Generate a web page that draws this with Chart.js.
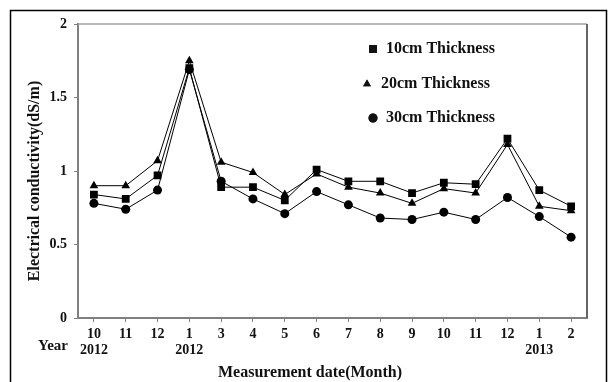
<!DOCTYPE html>
<html>
<head>
<meta charset="utf-8">
<script src="https://cdn.jsdelivr.net/npm/chart.js@4/dist/chart.umd.min.js"></script>
<style>
  html, body { margin: 0; padding: 0; background: #fff; }
  #wrap { width: 609px; height: 382px; }
</style>
</head>
<body>
<div id="wrap"><canvas id="c" width="609" height="382"></canvas></div>
<script>
// Measurement months (Oct 2012 – Feb 2013) and the year shown under some of them
const months = ['10', '11', '12', '1', '3', '4', '5', '6', '7', '8', '9', '10', '11', '12', '1', '2'];
const years  = ['2012', '', '', '2012', '', '', '', '', '', '', '', '', '', '', '2013', ''];

// Electrical conductivity (dS/m) per layer thickness
const thick10 = [0.84, 0.81, 0.97, 1.70, 0.89, 0.89, 0.80, 1.01, 0.93, 0.93, 0.85, 0.92, 0.91, 1.22, 0.87, 0.76];
const thick20 = [0.90, 0.90, 1.07, 1.75, 1.06, 0.99, 0.84, 0.98, 0.89, 0.85, 0.78, 0.88, 0.85, 1.18, 0.76, 0.73];
const thick30 = [0.78, 0.74, 0.87, 1.69, 0.93, 0.81, 0.71, 0.86, 0.77, 0.68, 0.67, 0.72, 0.67, 0.82, 0.69, 0.55];

const seriesNames = ['10cm Thickness', '20cm Thickness', '30cm Thickness'];
const yTicks = [0, 0.5, 1, 1.5, 2];

const FONT = 'Liberation Serif, Times New Roman, serif';
const labels = months.map((m, i) => [m, years[i]]);

function series(label, data, style, radius) {
  return {
    label, data,
    borderColor: '#000', borderWidth: 1,
    backgroundColor: '#000',
    pointStyle: style, pointRadius: radius, pointHoverRadius: radius,
    pointBackgroundColor: '#000', pointBorderColor: '#000', pointBorderWidth: 0,
    tension: 0, fill: false
  };
}

// Frame, plot border, in-plot legend and axis captions
const decor = {
  id: 'decor',
  afterDraw(chart) {
    const ctx = chart.ctx;
    const a = chart.chartArea;
    ctx.save();

    // outer frame
    ctx.strokeStyle = '#000';
    ctx.lineWidth = 1.5;
    ctx.strokeRect(10.5, 10.5, 596, 400);

    // top and right border of the plot area
    ctx.strokeStyle = '#a0a0a0';
    ctx.lineWidth = 1.5;
    ctx.beginPath();
    ctx.moveTo(a.left, a.top);
    ctx.lineTo(a.right, a.top);
    ctx.stroke();
    ctx.strokeStyle = '#666';
    ctx.lineWidth = 2;
    ctx.beginPath();
    ctx.moveTo(a.right, a.top);
    ctx.lineTo(a.right, a.bottom);
    ctx.stroke();

    // legend
    ctx.fillStyle = '#111';
    ctx.font = 'bold 16px ' + FONT;
    ctx.textBaseline = 'middle';
    ctx.textAlign = 'left';
    const items = [
      { x: 373, y: 49, tx: 386, style: 'rect', r: 5.5 },
      { x: 367, y: 84, tx: 381, style: 'triangle', r: 4.5 },
      { x: 373, y: 118, tx: 386, style: 'circle', r: 4.5 }
    ];
    items.forEach((it, i) => {
      Chart.helpers.drawPoint(ctx, { pointStyle: it.style, radius: it.r, borderWidth: 0 }, it.x, it.y);
      ctx.fill();
      ctx.fillText(chart.data.datasets[i].label, it.tx, it.y);
    });

    // axis captions
    ctx.textAlign = 'center';
    ctx.fillText('Measurement date(Month)', 310, 373);
    ctx.font = 'bold 15px ' + FONT;
    ctx.fillText('Year', 53, 346);

    ctx.font = 'bold 16px ' + FONT;
    ctx.translate(35, 181);
    ctx.rotate(-Math.PI / 2);
    ctx.fillText('Electrical conductivity(dS/m)', 0, 0);
    ctx.restore();
  }
};

new Chart(document.getElementById('c'), {
  type: 'line',
  data: {
    labels,
    datasets: [
      series(seriesNames[0], thick10, 'rect', 5.5),
      series(seriesNames[1], thick20, 'triangle', 5),
      series(seriesNames[2], thick30, 'circle', 4.5)
    ]
  },
  options: {
    responsive: false,
    animation: false,
    layout: { padding: { top: 24, right: 22, left: 0, bottom: 0 } },
    plugins: { legend: { display: false }, tooltip: { enabled: false } },
    scales: {
      x: {
        type: 'category',
        offset: true,
        border: { color: '#808080', width: 2 },
        grid: { drawOnChartArea: false, drawTicks: true, tickLength: 4, color: '#808080', offset: false },
        ticks: {
          autoSkip: false, maxRotation: 0, padding: 5,
          color: '#111',
          font: { family: FONT, weight: 'bold', size: 14, lineHeight: 1.1 }
        },
        afterFit(s) { s.height = 64; }
      },
      y: {
        min: 0, max: 2,
        border: { color: '#808080', width: 2 },
        grid: { drawOnChartArea: false, drawTicks: true, tickLength: 4, color: '#808080' },
        afterBuildTicks(s) { s.ticks = yTicks.map(v => ({ value: v })); },
        ticks: {
          padding: 7,
          color: '#111',
          font: { family: FONT, weight: 'bold', size: 14 },
          callback: v => String(v)
        },
        afterFit(s) { s.width = 78; }
      }
    }
  },
  plugins: [decor]
});
</script>
</body>
</html>
